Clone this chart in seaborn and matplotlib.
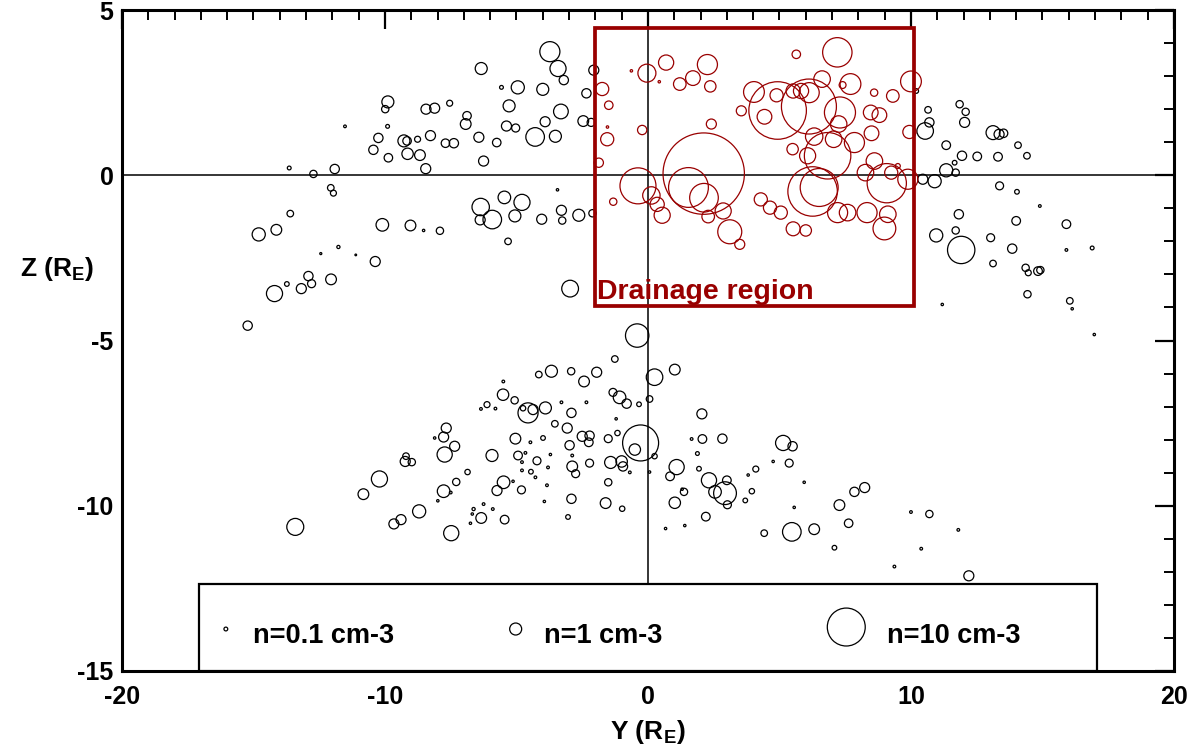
import matplotlib
matplotlib.use("Agg")
import matplotlib.pyplot as plt
from matplotlib.patches import Rectangle
from matplotlib.ticker import MultipleLocator
import numpy as np
import pandas as pd
import seaborn as sns


# black events, upper-left arc (Y, Z in R_E, density n in cm-3)
nw_y = [-3.73, -3.42, -6.34, -3.20, -2.06, -5.57, -4.95, -4.00, -2.34, -9.89,
        -9.99, -9.90, -11.52, -8.44, -8.11, -7.54, -6.88, -6.93, -5.28, -3.31,
        -3.91, -5.38, -5.03, -2.46, -2.16, -4.29, -3.52, -6.43, -5.75, -6.25,
        -10.25, -9.28, -9.16, -8.76, -8.27, -7.70, -7.38, -10.44, -9.87, -9.14,
        -8.67, -8.45, -13.64, -12.72, -11.91, -12.06, -11.96, -13.60, -14.80, -14.13,
        -10.10, -9.03, -8.53, -7.91, -6.36, -5.92, -6.38, -5.46, -4.79, -5.06,
        -5.32, -4.04, -3.44, -3.29, -3.26, -2.63, -2.11, -10.37, -12.44, -11.77,
        -11.11, -12.91, -12.79, -13.73, -14.20, -13.18, -12.05, -2.96, -15.22]
nw_z = [3.74, 3.23, 3.23, 2.88, 3.18, 2.66, 2.66, 2.60, 2.48, 2.22,
        2.00, 1.48, 1.48, 2.00, 2.03, 2.18, 1.80, 1.55, 2.10, 1.93,
        1.62, 1.49, 1.43, 1.64, 1.60, 1.16, 1.18, 1.15, 0.99, 0.43,
        1.13, 1.04, 1.04, 1.09, 1.20, 0.97, 0.97, 0.77, 0.53, 0.65,
        0.61, 0.20, 0.22, 0.04, 0.19, -0.38, -0.54, -1.16, -1.79, -1.65,
        -1.50, -1.52, -1.67, -1.68, -0.96, -1.34, -1.35, -0.67, -0.82, -1.23,
        -2.00, -1.33, -0.44, -1.06, -1.37, -1.21, -1.15, -2.61, -2.37, -2.17,
        -2.41, -3.05, -3.28, -3.29, -3.58, -3.43, -3.15, -3.43, -4.55]
nw_n = [2.8, 1.8, 1.0, 0.6, 0.7, 0.1, 1.2, 1.0, 0.6, 1.0,
        0.37, 0.1, 0.05, 0.7, 0.7, 0.25, 0.5, 0.8, 1.0, 1.5,
        0.7, 0.7, 0.45, 0.8, 0.45, 2.4, 1.0, 0.7, 0.5, 0.7,
        0.6, 1.0, 0.5, 0.25, 0.7, 0.5, 0.6, 0.6, 0.5, 0.9,
        0.8, 0.7, 0.1, 0.37, 0.6, 0.3, 0.25, 0.3, 1.2, 0.8,
        1.1, 0.8, 0.04, 0.37, 2.1, 2.4, 0.7, 1.1, 1.8, 1.0,
        0.3, 0.7, 0.04, 0.7, 0.37, 1.0, 0.37, 0.7, 0.03, 0.07,
        0.02, 0.6, 0.45, 0.15, 1.8, 0.7, 0.8, 1.95, 0.6]

# black events, upper-right arc
ne_y = [10.20, 10.65, 11.85, 12.08, 12.04, 10.70, 10.54, 13.12, 13.35, 13.52,
        14.07, 14.41, 11.34, 11.94, 12.52, 13.31, 11.34, 11.66, 11.70, 10.45,
        10.90, 13.37, 14.03, 14.90, 11.82, 14.00, 15.91, 10.96, 11.70, 11.91,
        13.03, 13.85, 15.91, 16.89, 13.12, 14.36, 14.46, 14.83, 14.92, 14.43,
        16.04, 16.13, 11.19, 16.97]
ne_z = [2.55, 1.98, 2.15, 1.92, 1.60, 1.60, 1.34, 1.29, 1.24, 1.27,
        0.91, 0.59, 0.91, 0.59, 0.57, 0.56, 0.15, 0.38, 0.08, -0.12,
        -0.18, -0.32, -0.50, -0.93, -1.18, -1.38, -1.48, -1.82, -1.67, -2.26,
        -1.89, -2.22, -2.26, -2.20, -2.67, -2.80, -2.95, -2.90, -2.87, -3.60,
        -3.80, -4.04, -3.91, -4.82]
ne_n = [0.15, 0.3, 0.37, 0.37, 0.7, 0.6, 1.9, 1.35, 0.7, 0.5,
        0.3, 0.3, 0.52, 0.6, 0.52, 0.52, 1.2, 0.15, 0.37, 0.7,
        1.2, 0.44, 0.15, 0.05, 0.6, 0.52, 0.52, 1.2, 0.37, 5.2,
        0.44, 0.6, 0.05, 0.1, 0.3, 0.37, 0.25, 0.52, 0.37, 0.37,
        0.3, 0.04, 0.04, 0.04]

# black events, lower arc west of Y=0
sw_y = [-0.41, -1.26, -3.67, -4.15, -2.92, -1.95, -2.43, -5.50, -5.51, -5.07,
        -1.33, -1.08, -0.81, -0.34, -6.12, -6.35, -5.80, -4.56, -4.37, -3.90,
        -4.75, -3.29, -2.34, -2.91, -1.21, -3.54, -3.07, -3.99, -5.04, -4.47,
        -2.50, -2.22, -2.25, -2.98, -1.51, -1.16, -7.67, -7.77, -7.35, -7.73,
        -8.11, -5.93, -4.94, -4.66, -4.22, -3.71, -3.80, -4.79, -4.79, -4.45,
        -4.28, -2.88, -2.75, -2.88, -2.22, -1.42, -1.00, -0.95, -0.69, -0.50,
        -0.28, -1.51, -1.61, -0.98, -2.91, -3.04, -3.84, -3.94, -5.49, -5.74,
        -4.81, -5.13, -6.86, -7.29, -7.77, -7.50, -7.99, -6.34, -5.45, -6.63,
        -6.25, -5.90, -6.68, -6.75, -7.48, -8.70, -9.39, -9.66, -10.21, -10.82,
        -9.23, -8.98, -9.20, -13.41]
sw_z = [-4.85, -5.56, -5.93, -6.03, -5.93, -5.96, -6.24, -6.24, -6.64, -6.81,
        -6.57, -6.72, -6.91, -6.93, -6.94, -7.07, -7.06, -7.19, -7.09, -7.04,
        -7.05, -6.87, -6.87, -7.19, -7.37, -7.52, -7.65, -7.95, -7.97, -8.08,
        -7.90, -7.88, -8.08, -8.17, -7.97, -7.80, -7.65, -7.92, -8.20, -8.45,
        -7.95, -8.48, -8.48, -8.40, -8.64, -8.45, -8.84, -8.68, -8.93, -8.97,
        -9.14, -8.81, -9.03, -8.48, -8.71, -8.69, -8.66, -8.81, -8.99, -8.30,
        -8.10, -9.29, -9.92, -10.09, -9.79, -10.34, -9.38, -9.87, -9.29, -9.54,
        -9.52, -9.26, -8.98, -9.28, -9.56, -9.60, -9.85, -10.37, -10.42, -10.10,
        -9.95, -10.10, -10.25, -10.53, -10.83, -10.17, -10.42, -10.55, -9.19, -9.65,
        -8.66, -8.68, -8.50, -10.64]
sw_n = [3.8, 0.3, 1.0, 0.3, 0.37, 0.7, 0.8, 0.05, 0.9, 0.37,
        0.44, 1.1, 0.6, 0.15, 0.25, 0.05, 0.05, 2.8, 0.7, 1.0,
        0.2, 0.05, 0.05, 0.6, 0.04, 0.3, 0.7, 0.15, 0.8, 0.05,
        0.7, 0.6, 0.52, 0.6, 0.44, 0.2, 0.7, 0.7, 0.7, 1.6,
        0.04, 1.0, 0.52, 0.05, 0.44, 0.04, 0.05, 0.05, 0.05, 0.15,
        0.05, 0.8, 0.44, 0.05, 0.44, 1.0, 0.9, 0.6, 0.05, 0.9,
        9.0, 0.37, 0.8, 0.2, 0.6, 0.15, 0.05, 0.04, 1.1, 0.7,
        0.44, 0.04, 0.2, 0.37, 1.1, 0.05, 0.04, 0.8, 0.52, 0.07,
        0.05, 0.05, 0.04, 0.04, 1.6, 1.2, 0.7, 0.7, 1.8, 0.8,
        0.7, 0.37, 0.3, 2.0]

# black events, lower arc east of Y=0
se_y = [1.02, 0.25, 0.06, 2.05, 2.07, 2.83, 1.66, 1.88, 1.94, 0.25,
        0.06, 1.09, 0.84, 1.37, 1.30, 1.02, 0.67, 1.40, 2.20, 2.32,
        2.55, 2.93, 3.00, 3.02, 3.81, 4.10, 3.95, 3.70, 4.42, 5.47,
        6.32, 7.09, 5.56, 5.14, 5.50, 5.37, 4.76, 5.94, 7.28, 7.85,
        8.24, 7.63, 10.00, 10.70, 11.80, 10.39, 9.37, 12.20]
se_z = [-5.88, -6.11, -6.77, -7.22, -7.98, -7.97, -7.98, -8.42, -8.88, -8.50,
        -8.98, -8.83, -9.11, -9.58, -9.50, -9.91, -10.69, -10.60, -10.33, -9.23,
        -9.58, -9.62, -9.23, -9.97, -9.07, -8.89, -9.56, -9.84, -10.83, -10.79,
        -10.71, -11.27, -10.05, -8.10, -8.20, -8.71, -8.66, -9.29, -9.98, -9.58,
        -9.45, -10.53, -10.19, -10.25, -10.73, -11.30, -11.84, -12.12]
se_n = [0.8, 1.9, 0.3, 0.7, 0.52, 0.6, 0.05, 0.1, 0.15, 0.2,
        0.04, 1.6, 0.52, 0.37, 0.04, 0.9, 0.04, 0.04, 0.52, 1.6,
        1.1, 3.6, 0.52, 0.44, 0.04, 0.25, 0.2, 0.15, 0.3, 2.4,
        0.8, 0.15, 0.04, 1.6, 0.6, 0.44, 0.04, 0.04, 0.8, 0.6,
        0.7, 0.5, 0.05, 0.37, 0.05, 0.05, 0.05, 0.7]

# red events inside the drainage region
drain_y = [0.69, 2.26, -0.04, -0.63, 0.43, 1.21, 1.71, 2.37, -1.74, -1.49,
           -1.55, -1.54, -0.22, 2.41, -1.87, 3.55, 7.20, 5.64, 4.03, 4.89,
           4.43, 4.93, 6.12, 7.30, 7.70, 7.40, 6.62, 6.13, 5.52, 5.82,
           8.60, 9.31, 10.00, 8.47, 8.80, 8.50, 9.94, 7.25, 7.06, 7.85,
           6.32, 5.50, 6.07, 6.83, 6.26, 6.51, 8.61, 8.27, 9.08, 9.25,
           9.50, 9.88, 4.29, 4.64, 5.05, 5.52, 6.00, 7.21, 7.59, 8.33,
           9.12, 8.99, 2.12, 1.54, 2.13, -0.38, 0.13, 0.35, 0.54, -1.32,
           2.29, 2.86, 3.11, 3.49]
drain_z = [3.41, 3.35, 3.09, 3.16, 2.83, 2.76, 2.94, 2.69, 2.61, 2.12,
           1.09, 1.46, 1.37, 1.55, 0.38, 1.95, 3.72, 3.66, 2.52, 2.42,
           1.77, 1.96, 2.08, 1.90, 2.76, 2.73, 2.91, 2.50, 2.55, 2.55,
           2.50, 2.40, 2.84, 1.90, 1.82, 1.27, 1.31, 1.55, 1.09, 0.99,
           1.17, 0.79, 0.59, 0.59, -0.49, -0.37, 0.43, 0.08, -0.24, 0.08,
           0.28, -0.12, -0.73, -0.98, -1.13, -1.62, -1.67, -1.13, -1.13, -1.13,
           -1.18, -1.61, 0.05, -0.37, -0.68, -0.32, -0.61, -0.88, -1.21, -0.80,
           -1.25, -1.08, -1.71, -2.09]
drain_n = [1.6, 2.8, 2.25, 0.04, 0.04, 1.1, 1.5, 0.9, 1.2, 0.5,
           1.2, 0.04, 0.6, 0.7, 0.6, 0.7, 6.0, 0.5, 3.0, 1.2,
           1.5, 23.0, 21.0, 6.7, 3.0, 0.33, 1.9, 2.8, 1.4, 1.6,
           0.37, 1.1, 3.0, 1.5, 1.5, 1.5, 1.2, 1.9, 1.9, 2.8,
           2.1, 0.9, 1.8, 15.0, 17.0, 10.0, 1.9, 1.9, 10.7, 1.2,
           0.17, 2.8, 1.2, 1.2, 1.2, 1.35, 0.9, 2.8, 1.9, 2.8,
           1.9, 3.6, 46.0, 11.0, 5.7, 9.0, 2.1, 1.4, 1.8, 0.37,
           1.1, 1.8, 4.0, 0.7]

legend_n = [0.1, 1, 10]
legend_labels = ["n=0.1 cm-3", "n=1 cm-3", "n=10 cm-3"]

# drainage box limits (Y0, Y1, Z0, Z1)
box_y = [-2.0, 10.1]
box_z = [-3.97, 4.45]

RED = "#990000"
N_MIN, N_MAX = 0.01, 50.0
S_PER_N = 74.6   # marker area (pt^2) per cm-3 -> area scales with density

sns.set_style("white")
plt.rcParams["font.family"] = ["Liberation Sans", "DejaVu Sans"]
plt.rcParams["font.weight"] = "bold"
plt.rcParams["text.color"] = "black"
plt.rcParams["axes.labelcolor"] = "black"
plt.rcParams["xtick.color"] = "black"
plt.rcParams["ytick.color"] = "black"
plt.rcParams["axes.unicode_minus"] = False
plt.rcParams["mathtext.fontset"] = "custom"
plt.rcParams["mathtext.bf"] = "Liberation Sans:bold"
plt.rcParams["mathtext.rm"] = "Liberation Sans:bold"

black = pd.DataFrame({
    "Y": nw_y + ne_y + sw_y + se_y,
    "Z": nw_z + ne_z + sw_z + se_z,
    "n": nw_n + ne_n + sw_n + se_n,
})
red = pd.DataFrame({"Y": drain_y, "Z": drain_z, "n": drain_n})

fig = plt.figure(figsize=(11.91, 7.54), dpi=100)
ax = fig.add_axes([0.1024, 0.1101, 0.8833, 0.8766])

size_kws = dict(size="n", sizes=(S_PER_N * N_MIN, S_PER_N * N_MAX),
                size_norm=(N_MIN, N_MAX), legend=False)

ax.axhline(0, color="black", lw=1.1, zorder=1)
ax.plot([0, 0], [-12.42, 5], color="black", lw=1.1, zorder=1)

sns.scatterplot(data=black, x="Y", y="Z", ax=ax, color="black",
                facecolors="none", edgecolor="black", linewidth=0.9,
                zorder=2, **size_kws)
sns.scatterplot(data=red, x="Y", y="Z", ax=ax, color=RED,
                facecolors="none", edgecolor=RED, linewidth=0.9,
                zorder=2, **size_kws)

ax.add_patch(Rectangle((box_y[0], box_z[0]), box_y[1] - box_y[0],
                       box_z[1] - box_z[0], fill=False, edgecolor=RED,
                       lw=2.7, zorder=3))
ax.text(box_y[0] + 0.05, box_z[0] + 0.22, "Drainage region", color=RED,
        fontsize=20.5, fontweight="bold", ha="left", va="baseline", zorder=4)

# density key box at the bottom
ax.add_patch(Rectangle((-17.07, -15), 34.14, 2.63, facecolor="white",
                       edgecolor="black", lw=1.6, zorder=5))
key = pd.DataFrame({"Y": [-16.05, -5.03, 7.54], "Z": [-13.73, -13.73, -13.67],
                    "n": legend_n})
sns.scatterplot(data=key, x="Y", y="Z", ax=ax, color="black",
                facecolors="none", edgecolor="black", linewidth=0.9,
                zorder=6, **size_kws)
for tx, lab in zip([-15.0, -3.96, 9.07], legend_labels):
    ax.text(tx, -13.95, lab, fontsize=19.5, fontweight="bold",
            ha="left", va="center", zorder=6)

ax.set_xlim(-20, 20)
ax.set_ylim(-15, 5)
ax.xaxis.set_major_locator(MultipleLocator(10))
ax.xaxis.set_minor_locator(MultipleLocator(1))
ax.yaxis.set_major_locator(MultipleLocator(5))
ax.yaxis.set_minor_locator(MultipleLocator(1))
ax.tick_params(which="both", direction="in", top=True, right=True,
               labelsize=18)
ax.tick_params(axis="x", pad=10)
ax.tick_params(axis="y", pad=6)
ax.tick_params(which="major", length=14, width=1.6)
ax.tick_params(which="minor", length=7, width=1.4)
for lab in ax.get_xticklabels() + ax.get_yticklabels():
    lab.set_fontweight("bold")
for sp in ax.spines.values():
    sp.set_linewidth(2.2)
    sp.set_color("black")

ax.set_xlabel(r"Y (R$_{\mathbf{E}}$)", fontsize=19, fontweight="bold")
ax.xaxis.set_label_coords(0.5, -0.093)
ax.xaxis.label.set_va("center")
ax.set_ylabel(r"Z (R$_{\mathbf{E}}$)", fontsize=19, fontweight="bold",
              rotation=0, ha="center", va="center")
ax.yaxis.set_label_coords(-0.062, 0.608)

fig.savefig("out.png", dpi=100)
